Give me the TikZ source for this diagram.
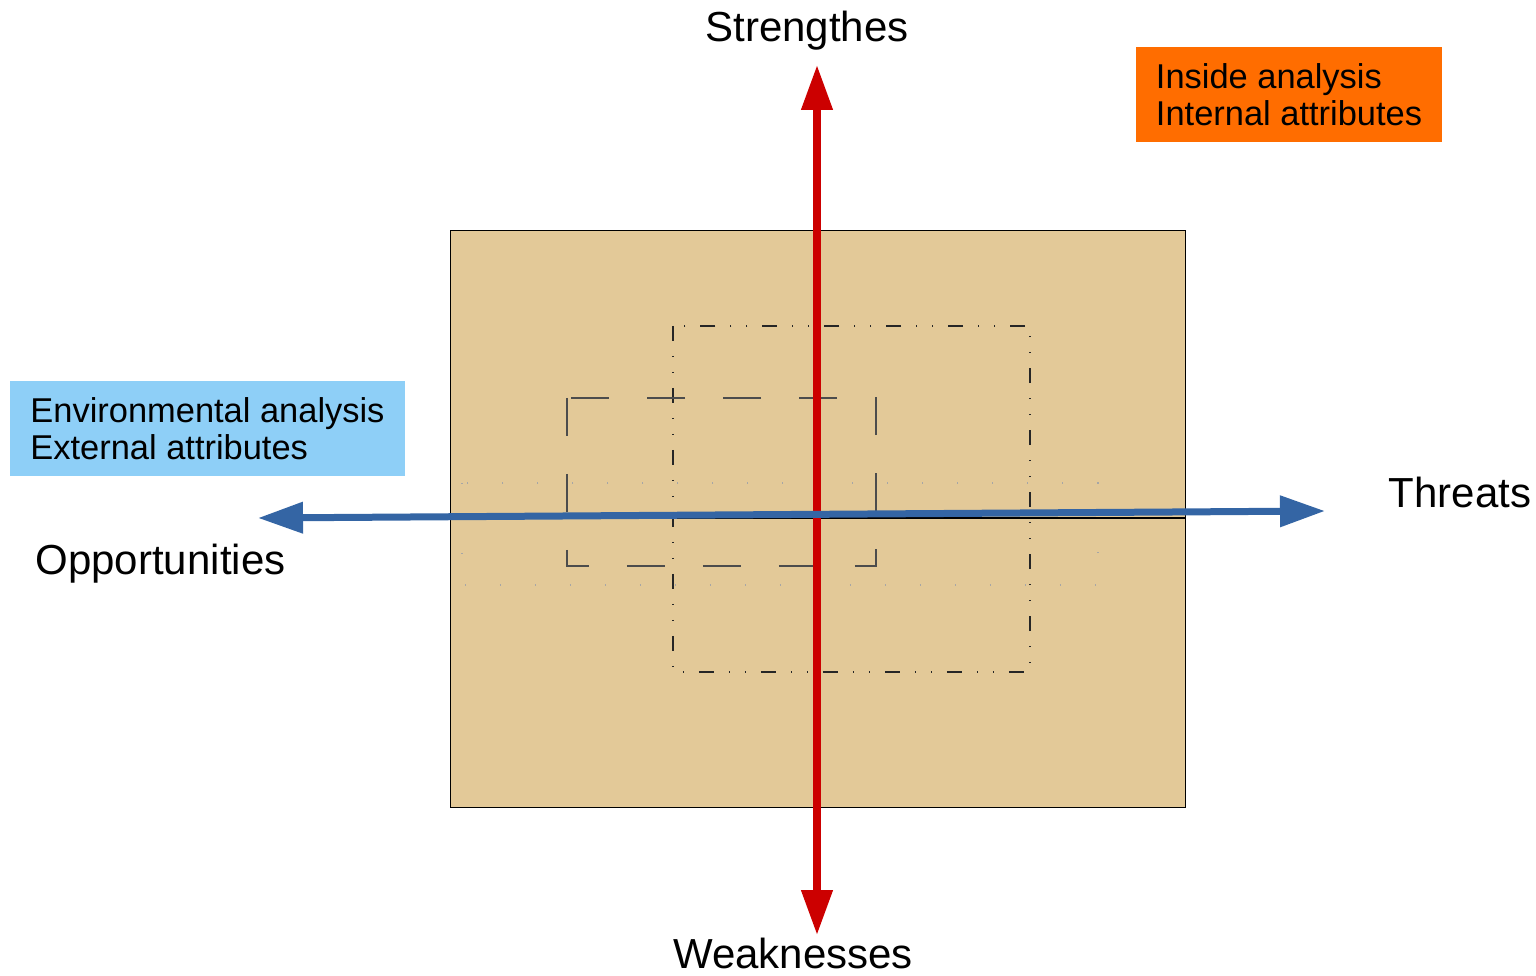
\documentclass[tikz,border=0pt]{standalone}
\usepackage{fontspec}
\setmainfont{Liberation Sans}
\usepackage{xcolor}
\usetikzlibrary{arrows.meta,positioning}
\definecolor{sandfill}{HTML}{E3C998}
\definecolor{axisred}{HTML}{CC0000}
\definecolor{axisblue}{HTML}{3465A4}
\definecolor{insideorange}{HTML}{FF6D00}
\definecolor{envblue}{HTML}{8ECFF7}

\begin{document}
\begin{tikzpicture}[
		x=0.02cm,y=-0.02cm,
		axislabel/.style={
			inner sep=0pt,
			font=\fontsize{23.9}{28}\selectfont
		},
		legendbox/.style={
			align=left,
			inner xsep=0.4cm,
			inner ysep=0pt,
			minimum height=1.9cm,
			font=\fontsize{19.6}{20.8}\selectfont
		},
		dashbox/.style={draw=black!70,line width=0.6pt,dash pattern=on 0.76cm off 0.76cm},
		dashdotbox/.style={draw=black!85,line width=0.6pt,dash pattern=on 0.3cm off 0.3cm on 0.02cm off 0.3cm on 0.02cm off 0.3cm},
		dotbox/.style={draw=black!35,line width=0.6pt,dash pattern=on 0.02cm off 0.68cm},
		redaxis/.style={draw=axisred,line width=0.15cm,{Triangle[length=0.9cm,width=0.6cm]}-{Triangle[length=0.9cm,width=0.6cm]}},
		blueaxis/.style={draw=axisblue,line width=0.14cm,{Triangle[length=0.9cm,width=0.6cm]}-{Triangle[length=0.9cm,width=0.6cm]}}
		]
		
		\useasboundingbox (0,0) rectangle (1536,976);
		
		% matrix area
		\draw[fill=sandfill,line width=0.5pt] (450,230) rectangle (1185,807);
		\draw[dotbox] (462,483) rectangle (1098,585);
		\draw[dashdotbox] (673,326) rectangle (1030,672);
		\draw[dashbox] (567,398) rectangle (876,566);
		\draw[line width=0.8pt] (450,518) -- (1185,518);
		
		% legends
		\node[legendbox,fill=insideorange,minimum width=6.12cm]
		(inside) at (1289,94.5)
		{Inside analysis\\Internal attributes};
		
		\node[legendbox,fill=envblue,minimum width=7.9cm]
		(environ) at (207.5,428.5)
		{Environmental analysis\\External attributes};
		
		% axis labels
		\node[axislabel]
		(strengthes) at (807,31)
		{Strengthes};
		
		\node[axislabel]
		(weaknesses) at (793,953)
		{Weaknesses};
		
		\node[axislabel]
		(threats) at (1460,492)
		{Threats};
		
		\node[axislabel]
		(opportunities) at (160.5,564)
		{Opportunities};
		
		% axes
		\coordinate (sTip) at (817,65);
		\coordinate (wTip) at (817,935);
		\coordinate (oTip) at (258,518);
		\coordinate (tTip) at (1325,511);
		
		\draw[redaxis] (wTip)--(sTip);
		\draw[blueaxis] (oTip)--(tTip);
		
	\end{tikzpicture}
\end{document}
